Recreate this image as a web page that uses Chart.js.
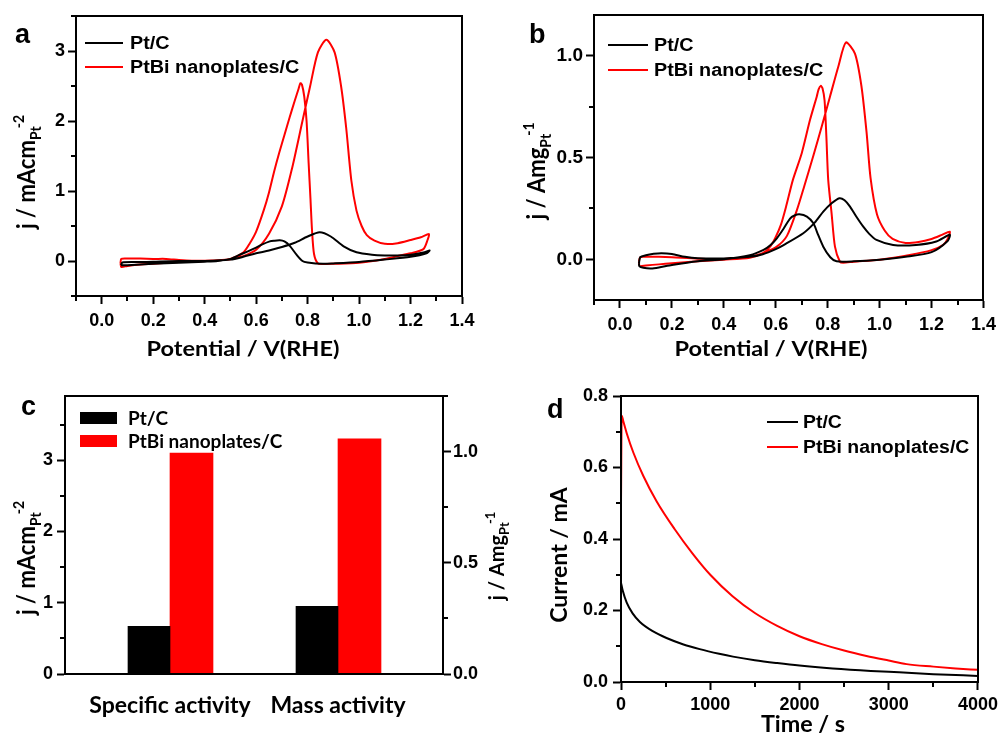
<!DOCTYPE html>
<html><head><meta charset="utf-8">
<script src="https://cdn.jsdelivr.net/npm/chart.js@4.4.1/dist/chart.umd.min.js"></script>
<style>
html,body{margin:0;padding:0;background:#fff;}
#wrap{position:relative;width:1002px;height:735px;overflow:hidden;background:#fff;}
canvas{position:absolute;}
</style></head><body><div id="wrap">
<canvas id="ca" style="left:0px;top:0px;width:500px;height:370px" width="500" height="370"></canvas>
<canvas id="cb" style="left:500px;top:0px;width:502px;height:370px" width="502" height="370"></canvas>
<canvas id="cc" style="left:0px;top:370px;width:530px;height:365px" width="530" height="365"></canvas>
<canvas id="cd" style="left:530px;top:370px;width:472px;height:365px" width="472" height="365"></canvas>
</div>
<script>
// ---------- DATA ----------
const seriesNames = ['Pt/C', 'PtBi nanoplates/C'];

// Panel a: CV, j / mA cm^-2 (forward scan then backward scan)
const aPtC_V = [0.075,0.08,0.15,0.2,0.3,0.4,0.5,0.55,0.6,0.65,0.7,0.75,0.8,0.847,0.89,0.94,0.99,1.05,1.1,1.15,1.2,1.25,1.274,
  1.262,1.2,1.1,1.0,0.9,0.86,0.8,0.78,0.757,0.73,0.71,0.692,0.67,0.653,0.62,0.6,0.57,0.537,0.5,0.45,0.4,0.3,0.2,0.1,0.075];
const aPtC_j = [-0.06,-0.02,-0.015,-0.01,0.0,0.0,0.02,0.06,0.11,0.15,0.2,0.26,0.35,0.41,0.35,0.21,0.125,0.09,0.08,0.08,0.09,0.12,0.15,
  0.11,0.06,0.02,-0.015,-0.035,-0.04,-0.02,0.0,0.09,0.22,0.28,0.296,0.29,0.28,0.23,0.19,0.14,0.09,0.03,0.0,-0.01,-0.025,-0.04,-0.06,-0.06];
const aPtBi_V = [0.073,0.076,0.1,0.15,0.2,0.25,0.3,0.35,0.4,0.45,0.5,0.55,0.6,0.65,0.7,0.74,0.78,0.81,0.84,0.873,0.905,0.93,0.95,0.97,0.99,1.01,1.03,1.06,1.1,1.15,1.2,1.24,1.272,
  1.266,1.25,1.2,1.15,1.1,1.0,0.9,0.86,0.84,0.825,0.817,0.811,0.804,0.796,0.787,0.778,0.772,0.765,0.75,0.73,0.71,0.69,0.67,0.65,0.63,0.6,0.575,0.55,0.5,0.45,0.4,0.35,0.3,0.25,0.2,0.15,0.1,0.076,0.073];
const aPtBi_j = [-0.03,0.03,0.035,0.035,0.03,0.03,0.015,0.005,0.005,0.01,0.025,0.07,0.16,0.39,0.78,1.33,2.0,2.5,2.98,3.16,2.98,2.5,1.9,1.15,0.72,0.5,0.37,0.29,0.245,0.255,0.3,0.34,0.385,
  0.3,0.17,0.11,0.07,0.03,-0.025,-0.04,-0.042,-0.035,0.1,0.45,0.9,1.4,2.0,2.35,2.52,2.54,2.46,2.29,2.05,1.8,1.55,1.28,0.98,0.73,0.42,0.25,0.12,0.03,0.01,0.0,-0.01,-0.015,-0.025,-0.04,-0.05,-0.07,-0.085,-0.03];

// Panel b: CV, j / A mg^-1
const bPtC_V = [0.073,0.078,0.1,0.13,0.16,0.2,0.25,0.3,0.4,0.5,0.55,0.6,0.63,0.706,0.75,0.783,0.815,0.845,0.865,0.886,0.91,0.937,0.96,0.988,1.052,1.14,1.218,1.27,
  1.262,1.2,1.1,1.0,0.9,0.834,0.81,0.783,0.76,0.745,0.72,0.691,0.672,0.655,0.63,0.604,0.58,0.553,0.5,0.4,0.3,0.2,0.15,0.12,0.09,0.075,0.073];
const bPtC_j = [-0.02,0.01,0.02,0.027,0.03,0.026,0.012,0.005,0.004,0.012,0.025,0.05,0.07,0.128,0.18,0.234,0.275,0.3,0.29,0.259,0.21,0.16,0.125,0.095,0.07,0.07,0.087,0.12,
  0.09,0.035,0.012,-0.002,-0.01,-0.01,0.01,0.062,0.13,0.177,0.21,0.221,0.215,0.2,0.15,0.103,0.07,0.046,0.02,0.0,-0.01,-0.028,-0.04,-0.045,-0.042,-0.035,-0.02];
const bPtBi_V = [0.073,0.078,0.1,0.15,0.2,0.3,0.4,0.5,0.56,0.604,0.643,0.681,0.71,0.745,0.777,0.809,0.841,0.87,0.905,0.93,0.95,0.965,0.99,1.02,1.05,1.1,1.15,1.2,1.24,1.27,
  1.262,1.244,1.2,1.116,1.0,0.9,0.86,0.847,0.828,0.815,0.802,0.795,0.788,0.78,0.773,0.765,0.758,0.732,0.7,0.666,0.64,0.62,0.6,0.58,0.55,0.5,0.4,0.3,0.2,0.15,0.1,0.076,0.073];
const bPtBi_j = [-0.01,0.01,0.012,0.012,0.01,0.003,0.002,0.012,0.035,0.062,0.115,0.24,0.36,0.51,0.652,0.8,0.947,1.065,1.01,0.85,0.62,0.4,0.22,0.14,0.1,0.08,0.085,0.1,0.12,0.136,
  0.1,0.07,0.045,0.021,-0.002,-0.012,-0.017,-0.012,0.062,0.226,0.39,0.6,0.78,0.84,0.852,0.835,0.8,0.685,0.521,0.39,0.26,0.17,0.11,0.065,0.03,0.008,-0.002,-0.01,-0.02,-0.025,-0.03,-0.033,-0.01];

// Panel c: activities, read on the left axis (mA cm^-2 scale)
const cCategories = ['Specific activity', 'Mass activity'];
const cPtC = [0.67, 0.95];
const cPtBi = [3.10, 3.30];

// Panel d: chronoamperometry
const dPtC_t = [0,20,64,130,212,350,510,700,882,1100,1255,1500,1750,2000,2372,2800,3116,3500,4000];
const dPtC_I = [0.278,0.255,0.222,0.192,0.168,0.143,0.123,0.105,0.092,0.079,0.071,0.061,0.053,0.046,0.038,0.031,0.027,0.022,0.017];
const dPtBi_t = [0,8,25,64,138,249,400,600,800,1000,1250,1500,1750,2000,2250,2500,2750,3000,3200,3500,3750,4000];
const dPtBi_I = [0.5,0.745,0.73,0.696,0.642,0.577,0.505,0.428,0.36,0.3,0.24,0.193,0.157,0.128,0.106,0.088,0.073,0.06,0.05,0.043,0.038,0.034];

// Tick values
const aXTicks = [0,0.2,0.4,0.6,0.8,1.0,1.2,1.4], aYTicks = [0,1,2,3];
const bXTicks = [0,0.2,0.4,0.6,0.8,1.0,1.2,1.4], bYTicks = [0,0.5,1.0];
const cYTicks = [0,1,2,3], cY2Ticks = [0,0.5,1.0];
const dXTicks = [0,1000,2000,3000,4000], dYTicks = [0,0.2,0.4,0.6,0.8];

// ---------- STYLE / HELPERS ----------
const ARIAL = "'Liberation Sans', Arial, sans-serif";
const CAL = "Lato, 'Open Sans', sans-serif";
const BLACK = '#000000', RED = '#ff0000';

const pts = (xs, ys) => xs.map((x, i) => ({x, y: ys[i]}));

function axis(o) {
  return {
    type: 'linear', position: o.position, min: o.min, max: o.max,
    border: {display: true, color: '#000', width: 2},
    grid: {display: true, drawOnChartArea: false, drawTicks: true, tickLength: 8, tickWidth: 2, tickColor: '#000'},
    afterBuildTicks: s => { s.ticks = o.ticks.map(v => ({value: v})); },
    ticks: {autoSkip: false, maxRotation: 0, padding: o.pad, color: '#000',
      font: {family: ARIAL, weight: 'bold', size: o.size || 18},
      callback: v => o.dec == null ? String(v) : Number(v).toFixed(o.dec)},
    afterFit: s => { if (o.w != null) s.width = o.w; if (o.h != null) s.height = o.h; }
  };
}

function drawRuns(ctx, runs, x, y, rot, family, sx) {
  ctx.save();
  ctx.translate(x, y);
  ctx.scale(sx || 1, 1);
  if (rot) ctx.rotate(rot);
  ctx.fillStyle = '#000';
  ctx.textBaseline = 'alphabetic';
  ctx.textAlign = 'left';
  let total = 0;
  runs.forEach(r => { ctx.font = 'bold ' + r.size + 'px ' + family; r._w = ctx.measureText(r.t).width; total += r._w + (r.dx || 0); });
  let cx = -total / 2;
  runs.forEach(r => { ctx.font = 'bold ' + r.size + 'px ' + family; cx += (r.dx || 0); ctx.fillText(r.t, cx, r.dy || 0); cx += r._w; });
  ctx.restore();
}

const deco = {
  id: 'deco',
  afterDraw(chart, args, o) {
    const ctx = chart.ctx, ca = chart.chartArea;
    ctx.save();
    ctx.strokeStyle = '#000'; ctx.lineWidth = 2;
    ctx.strokeRect(Math.round(ca.left), Math.round(ca.top), Math.round(ca.right - ca.left), Math.round(ca.bottom - ca.top));
    (o.minor || []).forEach(m => {
      const s = chart.scales[m.id];
      const maj = m.ticks, step = maj[1] - maj[0];
      ctx.beginPath();
      for (let k = -1; k < maj.length + 1; k++) {
        const v = maj[0] + (k + 0.5) * step;
        if (v < s.min - 1e-9 || v > s.max + 1e-9) continue;
        const p = Math.round(s.getPixelForValue(v));
        if (m.side === 'left') { ctx.moveTo(ca.left, p); ctx.lineTo(ca.left - 5, p); }
        else if (m.side === 'right') { ctx.moveTo(ca.right, p); ctx.lineTo(ca.right + 5, p); }
        else { ctx.moveTo(p, ca.bottom); ctx.lineTo(p, ca.bottom + 5); }
      }
      ctx.stroke();
    });
    ctx.restore();
    const lg = o.legend;
    if (lg) {
      chart.data.datasets.forEach((ds, i) => {
        const y = lg.y + i * lg.gap;
        ctx.save();
        if (lg.box) { ctx.fillStyle = ds.backgroundColor; ctx.fillRect(lg.x, y - lg.h / 2, lg.len, lg.h); }
        else { ctx.strokeStyle = ds.borderColor; ctx.lineWidth = 2; ctx.beginPath(); ctx.moveTo(lg.x, y); ctx.lineTo(lg.x + lg.len, y); ctx.stroke(); }
        ctx.fillStyle = '#000'; ctx.font = lg.font; ctx.textBaseline = 'middle'; ctx.textAlign = 'left';
        ctx.translate(lg.tx, y + 1); ctx.scale(lg.sx || 1, 1);
        ctx.fillText(ds.label, 0, 0);
        ctx.restore();
      });
    }
    (o.titles || []).forEach(t => drawRuns(ctx, t.runs, t.x, t.y, t.rot, t.family || CAL, t.sx));
    if (o.letter) {
      ctx.save(); ctx.fillStyle = '#000'; ctx.font = 'bold 27px ' + ARIAL; ctx.textBaseline = 'alphabetic';
      ctx.fillText(o.letter.t, o.letter.x, o.letter.y); ctx.restore();
    }
  }
};

const base = {responsive: false, animation: false, devicePixelRatio: 1, events: []};

function lineDs(label, data, color, extra) {
  return Object.assign({label, data, showLine: true, borderColor: color, backgroundColor: color,
    borderWidth: 2, pointRadius: 0, fill: false, tension: 0.25}, extra || {});
}

const yTitleA = [{t: 'j / mAcm', size: 22}, {t: 'Pt', size: 14, dy: 5}, {t: '-2', size: 14, dy: -10, dx: -2}];
const yTitleB = [{t: 'j / Amg', size: 22}, {t: 'Pt', size: 14, dy: 5}, {t: '-1', size: 14, dy: -10, dx: -2}];

// ---------- PANEL A ----------
new Chart(document.getElementById('ca'), {
  type: 'scatter',
  data: {datasets: [
    lineDs(seriesNames[0], pts(aPtC_V, aPtC_j), BLACK),
    lineDs(seriesNames[1], pts(aPtBi_V, aPtBi_j), RED)
  ]},
  options: Object.assign({}, base, {
    layout: {padding: {left: 0, top: 16, right: 38, bottom: 0}},
    scales: {
      x: axis({position: 'bottom', min: -0.1, max: 1.4, ticks: aXTicks, dec: 1, pad: 6, h: 74}),
      y: axis({position: 'left', min: -0.5, max: 3.5, ticks: aYTicks, dec: null, pad: 3, w: 76})
    },
    plugins: {legend: {display: false}, tooltip: {enabled: false},
      deco: {
        letter: {t: 'a', x: 15, y: 43},
        minor: [{id: 'x', ticks: aXTicks, side: 'bottom'}, {id: 'y', ticks: aYTicks, side: 'left'}],
        legend: {x: 85, len: 38, tx: 130, y: 43, gap: 24, sx: 1.1, font: 'bold 18px ' + ARIAL},
        titles: [
          {runs: yTitleA, x: 35, y: 172, rot: -Math.PI / 2, sx: 1.1},
          {runs: [{t: 'Potential / V(RHE)', size: 21}], x: 243, y: 356, sx: 1.12}
        ]
      }}
  }),
  plugins: [deco]
});

// ---------- PANEL B ----------
new Chart(document.getElementById('cb'), {
  type: 'scatter',
  data: {datasets: [
    lineDs(seriesNames[0], pts(bPtC_V, bPtC_j), BLACK),
    lineDs(seriesNames[1], pts(bPtBi_V, bPtBi_j), RED)
  ]},
  options: Object.assign({}, base, {
    layout: {padding: {left: 0, top: 15, right: 18, bottom: 0}},
    scales: {
      x: axis({position: 'bottom', min: -0.1, max: 1.4, ticks: bXTicks, dec: 1, pad: 6, h: 70}),
      y: axis({position: 'left', min: -0.2, max: 1.2, ticks: bYTicks, dec: 1, pad: 3, w: 94, size: 19})
    },
    plugins: {legend: {display: false}, tooltip: {enabled: false},
      deco: {
        letter: {t: 'b', x: 29, y: 43},
        minor: [{id: 'x', ticks: bXTicks, side: 'bottom'}, {id: 'y', ticks: bYTicks, side: 'left'}],
        legend: {x: 108, len: 40, tx: 154, y: 45, gap: 25, sx: 1.1, font: 'bold 18px ' + ARIAL},
        titles: [
          {runs: yTitleB, x: 45, y: 171, rot: -Math.PI / 2, sx: 1.1},
          {runs: [{t: 'Potential / V(RHE)', size: 21}], x: 271, y: 356, sx: 1.12}
        ]
      }}
  }),
  plugins: [deco]
});

// ---------- PANEL C ----------
const cX = {
  type: 'linear', position: 'bottom', min: 0.375, max: 2.625, offset: false,
  border: {display: true, color: '#000', width: 2},
  grid: {display: false, offset: false},
  afterBuildTicks: s => { s.ticks = cCategories.map((c, i) => ({value: i + 1})); },
  ticks: {autoSkip: false, maxRotation: 0, padding: 10, color: '#000',
    font: {family: CAL, weight: 'bold', size: 23},
    callback: v => cCategories[Math.round(v) - 1]},
  afterFit: s => { s.height = 61; }
};
new Chart(document.getElementById('cc'), {
  type: 'bar',
  data: {datasets: [
    {label: seriesNames[0], data: cPtC.map((y, i) => ({x: i + 1, y})), backgroundColor: BLACK, borderWidth: 0, barThickness: 42, yAxisID: 'y'},
    {label: seriesNames[1], data: cPtBi.map((y, i) => ({x: i + 1, y})), backgroundColor: RED, borderWidth: 0, barThickness: 43, yAxisID: 'y'}
  ]},
  options: Object.assign({}, base, {
    layout: {padding: {left: 0, top: 26, right: 0, bottom: 0}},
    scales: {
      x: cX,
      y: axis({position: 'left', min: 0, max: 3.9, ticks: cYTicks, dec: null, pad: 4, w: 65}),
      y2: axis({position: 'right', min: 0, max: 1.25, ticks: cY2Ticks, dec: 1, pad: 2, w: 87})
    },
    plugins: {legend: {display: false}, tooltip: {enabled: false},
      deco: {
        letter: {t: 'c', x: 21, y: 45},
        minor: [{id: 'y', ticks: cYTicks, side: 'left'}, {id: 'y2', ticks: cY2Ticks, side: 'right'}],
        legend: {box: true, x: 80, len: 37, h: 12, tx: 128, y: 48, gap: 23, font: 'bold 19px ' + CAL},
        titles: [
          {runs: yTitleA, x: 35, y: 188, rot: -Math.PI / 2, sx: 1.1},
          {runs: [{t: 'j / Amg', size: 20}, {t: 'Pt', size: 13, dy: 5}, {t: '-1', size: 13, dy: -9, dx: -2}], x: 504, y: 186, rot: -Math.PI / 2}
        ]
      }}
  }),
  plugins: [deco]
});

// ---------- PANEL D ----------
new Chart(document.getElementById('cd'), {
  type: 'scatter',
  data: {datasets: [
    lineDs(seriesNames[0], pts(dPtC_t, dPtC_I), BLACK, {cubicInterpolationMode: 'monotone'}),
    lineDs(seriesNames[1], pts(dPtBi_t, dPtBi_I), RED, {cubicInterpolationMode: 'monotone'})
  ]},
  options: Object.assign({}, base, {
    layout: {padding: {left: 0, top: 26, right: 23, bottom: 0}},
    scales: {
      x: axis({position: 'bottom', min: 0, max: 4000, ticks: dXTicks, dec: null, pad: 4, h: 53}),
      y: axis({position: 'left', min: 0, max: 0.8, ticks: dYTicks, dec: 1, pad: 5, w: 91})
    },
    plugins: {legend: {display: false}, tooltip: {enabled: false},
      deco: {
        letter: {t: 'd', x: 17, y: 48},
        minor: [{id: 'x', ticks: dXTicks, side: 'bottom'}, {id: 'y', ticks: dYTicks, side: 'left'}],
        legend: {x: 237, len: 31, tx: 273, y: 52, gap: 25, sx: 1.08, font: 'bold 18px ' + ARIAL},
        titles: [
          {runs: [{t: 'Current / mA', size: 23}], x: 37, y: 185, rot: -Math.PI / 2},
          {runs: [{t: 'Time / s', size: 22}], x: 273, y: 362, sx: 1.06}
        ]
      }}
  }),
  plugins: [deco]
});
</script>
</body></html>
